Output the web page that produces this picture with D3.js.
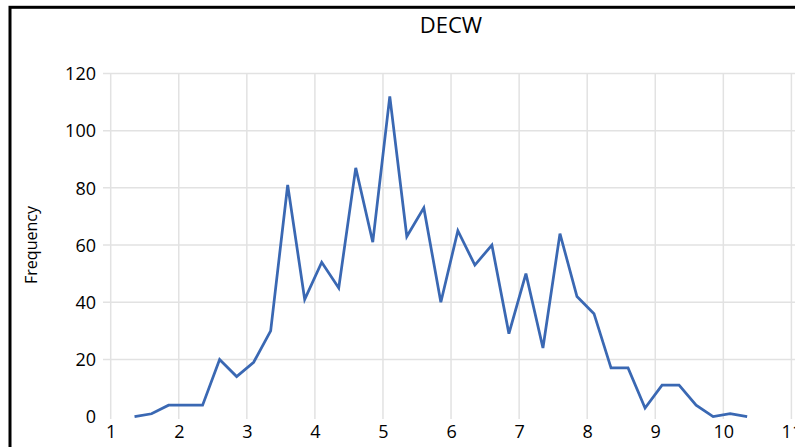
<!DOCTYPE html>
<html>
<head>
<meta charset="utf-8">
<script src="https://cdn.jsdelivr.net/npm/d3@7"></script>
<style>
  html, body { margin: 0; padding: 0; background: #fff; overflow: hidden; }
  svg { display: block; }
  text { font-family: "Open Sans", "Liberation Sans", sans-serif; fill: #000; }
</style>
</head>
<body>
<svg id="chart" width="795" height="447"></svg>
<script>
const chartTitle = "DECW";
const yAxisTitle = "Frequency";
const binCenters = [1.35, 1.6, 1.85, 2.1, 2.35, 2.6, 2.85, 3.1, 3.35, 3.6, 3.85, 4.1, 4.35, 4.6, 4.85, 5.1, 5.35, 5.6, 5.85, 6.1, 6.35, 6.6, 6.85, 7.1, 7.35, 7.6, 7.85, 8.1, 8.35, 8.6, 8.85, 9.1, 9.35, 9.6, 9.85, 10.1, 10.35];
const frequencies = [0, 1, 4, 4, 4, 20, 14, 19, 30, 81, 41, 54, 45, 87, 61, 112, 63, 73, 40, 65, 53, 60, 29, 50, 24, 64, 42, 36, 17, 17, 3, 11, 11, 4, 0, 1, 0];
const xTicks = [1, 2, 3, 4, 5, 6, 7, 8, 9, 10, 11];
const yTicks = [0, 20, 40, 60, 80, 100, 120];

const svg = d3.select("#chart");

const x = d3.scaleLinear().domain([1, 11]).range([110.7, 791.4]);
const y = d3.scaleLinear().domain([0, 120]).range([416.6, 73.5]);

// chart border
svg.append("rect")
  .attr("x", 10).attr("y", 7.3)
  .attr("width", 900).attr("height", 600)
  .attr("fill", "none").attr("stroke", "#000").attr("stroke-width", 3);

// title
svg.append("text")
  .attr("x", 451).attr("y", 33)
  .attr("text-anchor", "middle")
  .attr("font-size", 22)
  .text(chartTitle);

// horizontal gridlines
svg.append("g").selectAll("line")
  .data(yTicks.filter(d => d > 0))
  .join("line")
  .attr("x1", 103).attr("x2", 800)
  .attr("y1", d => y(d)).attr("y2", d => y(d))
  .attr("stroke", "#e2e2e2").attr("stroke-width", 1.5);

// vertical gridlines
svg.append("g").selectAll("line")
  .data(xTicks)
  .join("line")
  .attr("x1", d => x(d)).attr("x2", d => x(d))
  .attr("y1", y(120)).attr("y2", 419)
  .attr("stroke", "#e2e2e2").attr("stroke-width", 1.5);

// y axis labels
const yAxis = d3.axisLeft(y).tickValues(yTicks).tickSize(0).tickPadding(0).tickFormat(d3.format("d"));
const gy = svg.append("g").attr("transform", "translate(96,0)").call(yAxis);
gy.select(".domain").remove();
gy.selectAll("text").attr("font-size", 18).attr("font-family", "Open Sans").attr("fill", "#000").attr("dy", "0.35em");

// x axis labels
const xAxis = d3.axisBottom(x).tickValues(xTicks).tickSize(0).tickPadding(0).tickFormat(d3.format("d"));
const gx = svg.append("g").attr("transform", "translate(0,425)").call(xAxis);
gx.select(".domain").remove();
gx.selectAll("text").attr("font-size", 18).attr("font-family", "Open Sans").attr("fill", "#000").attr("dy", "0.71em");

// y axis title
svg.append("text")
  .attr("transform", "translate(31,245) rotate(-90)")
  .attr("text-anchor", "middle")
  .attr("dominant-baseline", "central")
  .attr("font-size", 16)
  .text(yAxisTitle);

// line
const data = binCenters.map((b, i) => ({ x: b, y: frequencies[i] }));
const line = d3.line().x(d => x(d.x)).y(d => y(d.y));
svg.append("path")
  .datum(data)
  .attr("d", line)
  .attr("fill", "none")
  .attr("stroke", "#3a68b3")
  .attr("stroke-width", 2.75)
  .attr("stroke-linejoin", "miter");
</script>
</body>
</html>
